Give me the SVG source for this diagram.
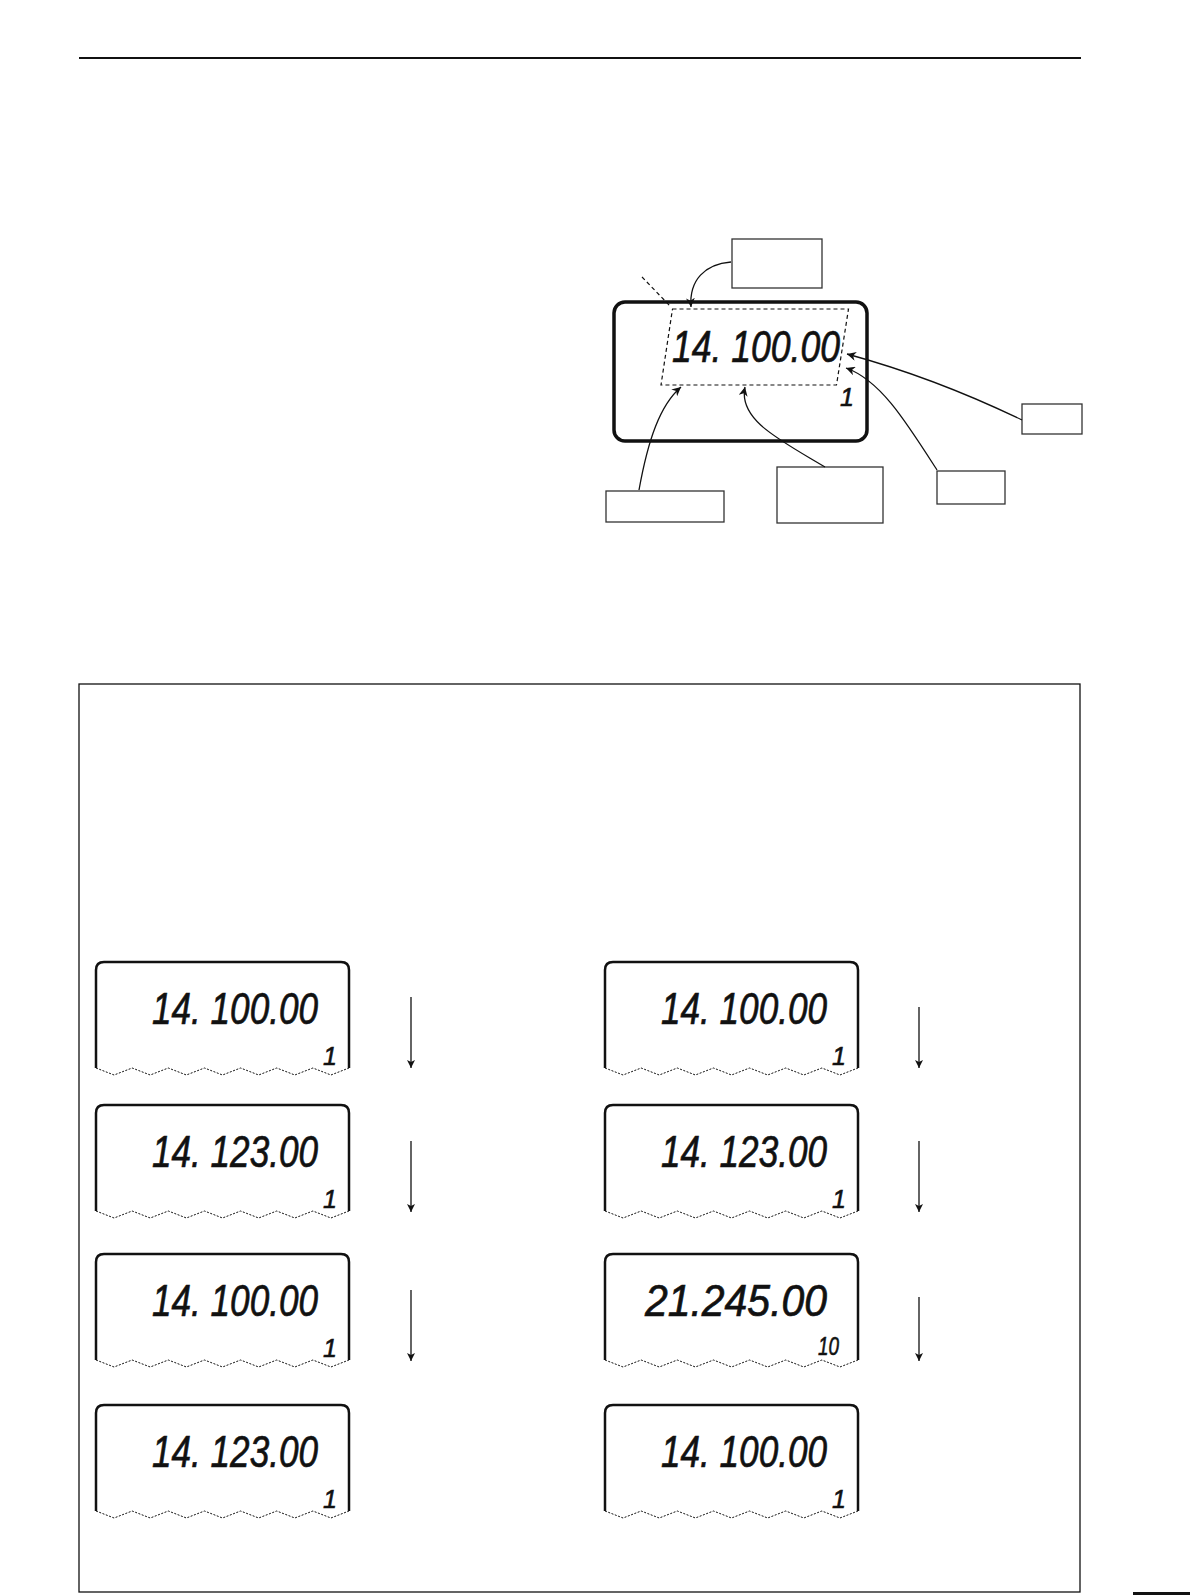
<svg xmlns="http://www.w3.org/2000/svg" xmlns:xlink="http://www.w3.org/1999/xlink" width="1190" height="1595" viewBox="0 0 1190 1595">
<style>
.lbl{fill:#fff;stroke:#333;stroke-width:1.3}
.conn{fill:none;stroke:#111;stroke-width:1.3}
.dash{fill:none;stroke:#111;stroke-width:1.2;stroke-dasharray:4,3}
.lcdtxt{font-family:"Liberation Sans",Arial,sans-serif;font-style:italic;font-size:44px;fill:#111;stroke:#111;stroke-width:0.7}
.lcdsm{font-family:"Liberation Sans",Arial,sans-serif;font-style:italic;font-size:25px;fill:#111;stroke:#111;stroke-width:0.6}
.frame{fill:none;stroke:#111;stroke-width:2.5}
.zig{fill:none;stroke:#111;stroke-width:1;stroke-dasharray:2,1.5}
</style>
<defs>
<marker id="ah" viewBox="0 0 10 10" refX="10" refY="5" markerWidth="9" markerHeight="9" markerUnits="userSpaceOnUse" orient="auto">
<path d="M0,0 L10,5 L0,10 L3,5 z" fill="#111"/>
</marker>
<marker id="ad" viewBox="0 0 10 10" refX="10" refY="5" markerWidth="10" markerHeight="8" markerUnits="userSpaceOnUse" orient="auto">
<path d="M0,0 L10,5 L0,10 L2.5,5 z" fill="#111"/>
</marker>
<g id="lcd">
<path class="frame" d="M0,106 V8 Q0,0 8,0 H245 Q253,0 253,8 V106"/>
<polyline class="zig" points="0,106 18.07,113 36.14,106 54.21,113 72.29,106 90.36,113 108.43,106 126.5,113 144.57,106 162.64,113 180.71,106 198.79,113 216.86,106 234.93,113 253,106"/>
</g>
</defs>
<rect width="1190" height="1595" fill="#fff"/>
<line x1="79" y1="58" x2="1081" y2="58" stroke="#111" stroke-width="2"/>
<rect x="1133" y="1592" width="57" height="3" fill="#111"/>

<g id="main-display">
<rect x="614" y="302" width="253" height="139" rx="11" fill="none" stroke="#111" stroke-width="3.5"/>
<polygon class="dash" points="672.5,309 848.5,309 836.5,385 661,385"/>
<text class="lcdtxt" x="672" y="362" textLength="168" lengthAdjust="spacingAndGlyphs">14. 100.00</text>
<text class="lcdsm" x="840" y="406">1</text>
</g>

<g id="label-top"><rect class="lbl" x="732" y="239" width="90" height="49"/></g>
<g id="label-right"><rect class="lbl" x="1022" y="404" width="60" height="30"/></g>
<g id="label-lower-right"><rect class="lbl" x="937" y="471" width="68" height="33"/></g>
<g id="label-middle"><rect class="lbl" x="777" y="467" width="106" height="56"/></g>
<g id="label-left"><rect class="lbl" x="606" y="491" width="118" height="31"/></g>

<g id="panel"><rect x="79" y="684" width="1001" height="908" fill="none" stroke="#111" stroke-width="1.3"/></g>

<g id="lcd-l1"><use xlink:href="#lcd" x="96" y="962"/>
<text class="lcdtxt" x="152" y="1024" textLength="166" lengthAdjust="spacingAndGlyphs">14. 100.00</text>
<text class="lcdsm" x="323" y="1065">1</text></g>
<g id="lcd-l2"><use xlink:href="#lcd" x="96" y="1105"/>
<text class="lcdtxt" x="152" y="1167" textLength="166" lengthAdjust="spacingAndGlyphs">14. 123.00</text>
<text class="lcdsm" x="323" y="1208">1</text></g>
<g id="lcd-l3"><use xlink:href="#lcd" x="96" y="1254"/>
<text class="lcdtxt" x="152" y="1316" textLength="166" lengthAdjust="spacingAndGlyphs">14. 100.00</text>
<text class="lcdsm" x="323" y="1357">1</text></g>
<g id="lcd-l4"><use xlink:href="#lcd" x="96" y="1405"/>
<text class="lcdtxt" x="152" y="1467" textLength="166" lengthAdjust="spacingAndGlyphs">14. 123.00</text>
<text class="lcdsm" x="323" y="1508">1</text></g>

<g id="lcd-r1"><use xlink:href="#lcd" x="605" y="962"/>
<text class="lcdtxt" x="661" y="1024" textLength="166" lengthAdjust="spacingAndGlyphs">14. 100.00</text>
<text class="lcdsm" x="832" y="1065">1</text></g>
<g id="lcd-r2"><use xlink:href="#lcd" x="605" y="1105"/>
<text class="lcdtxt" x="661" y="1167" textLength="166" lengthAdjust="spacingAndGlyphs">14. 123.00</text>
<text class="lcdsm" x="832" y="1208">1</text></g>
<g id="lcd-r3"><use xlink:href="#lcd" x="605" y="1254"/>
<text class="lcdtxt" x="645" y="1316" textLength="182" lengthAdjust="spacingAndGlyphs">21.245.00</text>
<text class="lcdsm" x="818" y="1355" textLength="21" lengthAdjust="spacingAndGlyphs">10</text></g>
<g id="lcd-r4"><use xlink:href="#lcd" x="605" y="1405"/>
<text class="lcdtxt" x="661" y="1467" textLength="166" lengthAdjust="spacingAndGlyphs">14. 100.00</text>
<text class="lcdsm" x="832" y="1508">1</text></g>

<g id="connectors">
<line class="dash" x1="642" y1="277" x2="670" y2="306"/>
<path class="conn" marker-end="url(#ah)" d="M731,262 C705,264 689,280 691,307"/>
<path class="conn" marker-end="url(#ah)" d="M1022,420 Q935,378 847,354"/>
<path class="conn" marker-end="url(#ah)" d="M937,470 C905,420 880,380 846,368"/>
<path class="conn" marker-end="url(#ah)" d="M825,467 C780,440 738,420 745,387"/>
<path class="conn" marker-end="url(#ah)" d="M639,490 C648,440 660,405 681,387"/>
<line class="conn" stroke-width="1" marker-end="url(#ad)" x1="411" y1="997" x2="411" y2="1068"/>
<line class="conn" stroke-width="1" marker-end="url(#ad)" x1="411" y1="1141" x2="411" y2="1212"/>
<line class="conn" stroke-width="1" marker-end="url(#ad)" x1="411" y1="1290" x2="411" y2="1361"/>
<line class="conn" stroke-width="1" marker-end="url(#ad)" x1="919" y1="1007" x2="919" y2="1068"/>
<line class="conn" stroke-width="1" marker-end="url(#ad)" x1="919" y1="1141" x2="919" y2="1212"/>
<line class="conn" stroke-width="1" marker-end="url(#ad)" x1="919" y1="1297" x2="919" y2="1361"/>
</g>
</svg>
